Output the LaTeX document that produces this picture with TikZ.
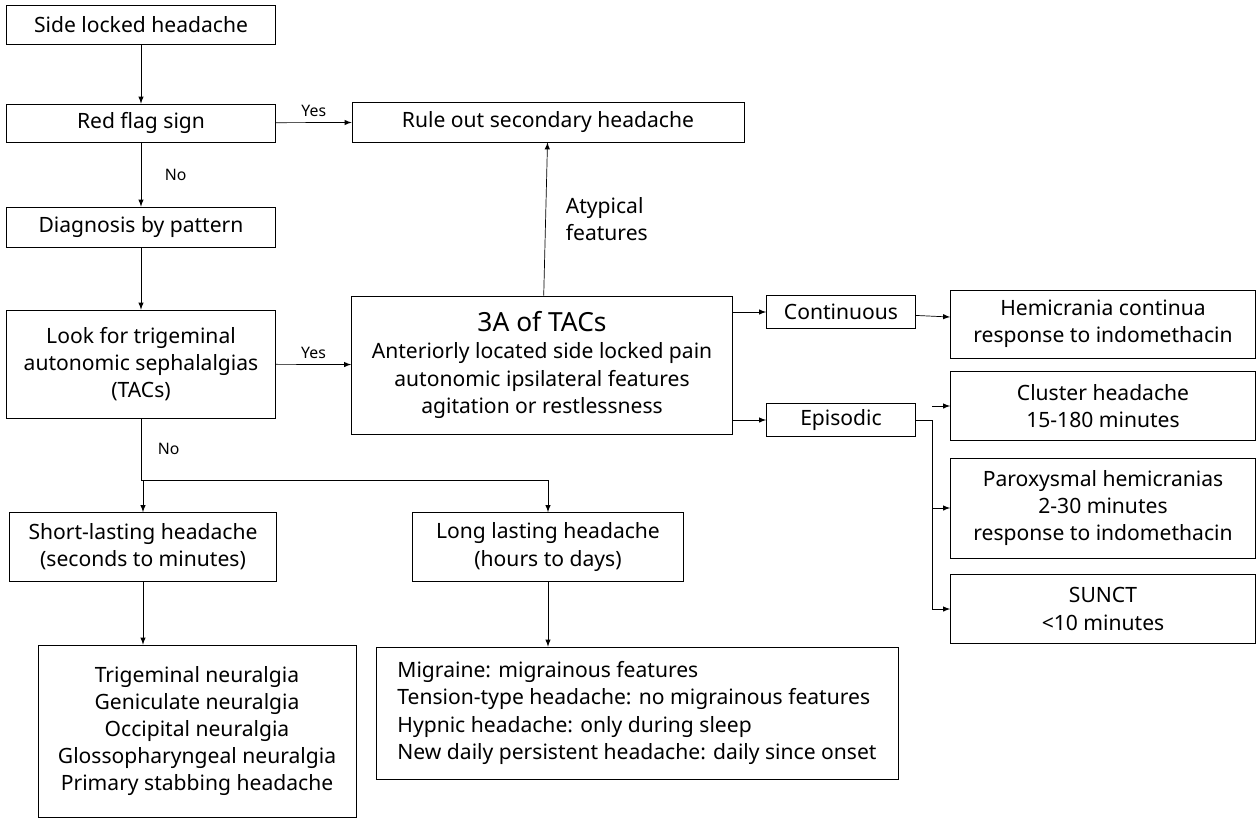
\documentclass[tikz,border=0pt]{standalone}
\usepackage{fontspec}
\setmainfont{Noto Sans}
\usetikzlibrary{positioning}
\tikzset{
  box/.style={draw, inner sep=0pt, align=center, font=\fontsize{12}{15.5}\selectfont},
  arr/.style={->,>=latex}
}
\begin{document}
\begin{tikzpicture}[x=0.02cm,y=-0.02cm]
  \useasboundingbox (0,0) rectangle (1260,819);
  % left column
  \node[box, minimum width=269*0.02cm, minimum height=39*0.02cm] (side) at (141,25) {Side locked headache};
  \node[box, minimum width=269*0.02cm, minimum height=38*0.02cm] (red) at (141,123) {Red flag sign};
  \node[box, minimum width=392*0.02cm, minimum height=40*0.02cm] (rule) at (548,122) {Rule out secondary headache};
  \node[box, minimum width=269*0.02cm, minimum height=40*0.02cm] (diag) at (141,227) {Diagnosis by pattern};
  \node[box, minimum width=269*0.02cm, minimum height=108*0.02cm] (tacs) at (141,364) {Look for trigeminal\\autonomic sephalalgias\\(TACs)};
  % TACs branch
  \node[box, minimum width=381*0.02cm, minimum height=138*0.02cm] (three) at (542,365)
    {{\fontsize{15}{19}\selectfont 3A of TACs}\\Anteriorly located side locked pain\\autonomic ipsilateral features\\agitation or restlessness};
  \node[box, minimum width=149*0.02cm, minimum height=33*0.02cm] (cont) at (841,312) {Continuous};
  \node[box, minimum width=149*0.02cm, minimum height=33*0.02cm] (epis) at (841,420) {Episodic};
  \node[box, minimum width=305*0.02cm, minimum height=68*0.02cm] (hemi) at (1103,324) {Hemicrania continua\\response to indomethacin};
  \node[box, minimum width=305*0.02cm, minimum height=69*0.02cm] (clus) at (1103,406) {Cluster headache\\15-180 minutes};
  \node[box, minimum width=305*0.02cm, minimum height=100*0.02cm] (parox) at (1103,508) {Paroxysmal hemicranias\\2-30 minutes\\response to indomethacin};
  \node[box, minimum width=305*0.02cm, minimum height=69*0.02cm] (sunct) at (1103,609) {SUNCT\\<10 minutes};
  % non-TACs
  \node[box, minimum width=267*0.02cm, minimum height=69*0.02cm] (short) at (143,547) {Short-lasting headache\\(seconds to minutes)};
  \node[box, minimum width=271*0.02cm, minimum height=69*0.02cm] (long) at (548,547) {Long lasting headache\\(hours to days)};
  \node[box, minimum width=318*0.02cm, minimum height=172*0.02cm] (neur) at (197,731)
    {Trigeminal neuralgia\\Geniculate neuralgia\\Occipital neuralgia\\Glossopharyngeal neuralgia\\Primary stabbing headache};
  \node[box, minimum width=522*0.02cm, minimum height=132*0.02cm, align=left] (migr) at (637,713)
    {Migraine: migrainous features\\Tension-type headache: no migrainous features\\Hypnic headache: only during sleep\\New daily persistent headache: daily since onset};
  % connectors
  \draw[arr] (side) -- (red);
  \draw[arr] (red) -- node[above, font=\small] {Yes} (rule);
  \draw[arr] (red) -- node[right=10pt, font=\small] {No} (diag);
  \draw[arr] (diag) -- (tacs);
  \draw[arr] (tacs) -- node[above, font=\small] {Yes} (three);
  \draw[arr] (three) -- node[right=8pt, align=left, font=\fontsize{12}{15.5}\selectfont] {Atypical\\features} (rule);
  \draw[arr] (three.east |- cont) -- (cont);
  \draw[arr] (three.east |- epis) -- (epis);
  \draw[arr] (cont) -- (hemi);
  \coordinate (split) at (932,420);
  \draw (epis) -- (split) -- (split |- sunct);
  \draw[arr] (split |- clus) -- (clus);
  \draw[arr] (split |- parox) -- (parox);
  \draw[arr] (split |- sunct) -- (sunct);
  \coordinate (fork) at (141,480);
  \draw (tacs) -- node[right=6pt, font=\small] {No} (fork);
  \draw[arr] (fork) -| (short);
  \draw[arr] (fork) -| (long);
  \draw[arr] (short) -- (short |- neur.north);
  \draw[arr] (long) -- (long |- migr.north);
\end{tikzpicture}
\end{document}
